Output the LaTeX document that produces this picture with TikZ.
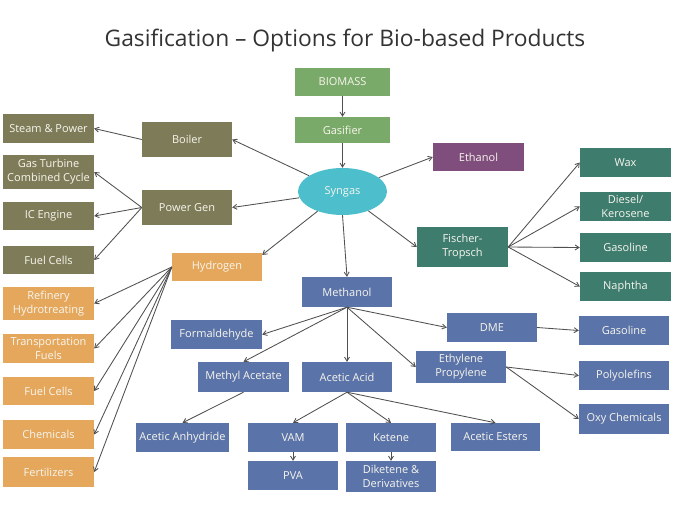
\documentclass[tikz,border=0pt]{standalone}
\usepackage{fontspec}
\setmainfont{Open Sans}
\usetikzlibrary{arrows.meta,shapes.geometric}
\definecolor{olive}{RGB}{126,124,88}
\definecolor{leaf}{RGB}{122,170,105}
\definecolor{plum}{RGB}{128,78,125}
\definecolor{teal2}{RGB}{62,124,110}
\definecolor{amber}{RGB}{228,167,92}
\definecolor{steel}{RGB}{90,115,168}
\definecolor{cyan2}{RGB}{76,190,204}
\definecolor{lnk}{RGB}{80,80,80}
\definecolor{txt}{RGB}{248,246,238}
\begin{document}
\begin{tikzpicture}[x=1pt,y=-1pt,
  bx/.style={rectangle,inner sep=0pt,align=center,text=txt,
    font=\fontsize{11}{14}\selectfont,minimum width=91,minimum height=29},
  ol/.style={bx,fill=olive},
  gr/.style={bx,fill=leaf},
  pu/.style={bx,fill=plum},
  tl/.style={bx,fill=teal2},
  og/.style={bx,fill=amber},
  bl/.style={bx,fill=steel},
  arr/.style={draw=lnk,line width=0.85pt,-{Straight Barb[length=4pt,width=5pt]}}]
\useasboundingbox (0,0) rectangle (676,507);
\fill[white] (0,0) rectangle (676,507);
\node[text=black!80,font=\fontsize{22.8}{26}\selectfont] (title) at (345,41) {Gasification – Options for Bio-based Products};
% top
\node[gr,minimum width=95,minimum height=28] (bio) at (342.5,82) {BIOMASS};
\node[gr,minimum width=95,minimum height=26] (gas) at (342.5,130) {Gasifier};
\node[ellipse,fill=cyan2,inner sep=0pt,minimum width=89,minimum height=47,text=txt,font=\fontsize{11}{14}\selectfont] (sg) at (342.5,191.5) {Syngas};
\node[pu,minimum height=28] (eth) at (478.5,157) {Ethanol};
% left column
\node[ol,minimum width=90,minimum height=35] (boiler) at (187,139.5) {Boiler};
\node[ol,minimum width=90,minimum height=35] (pg) at (187,207.5) {Power Gen};
\node[og,minimum width=90,minimum height=28] (hy) at (217,267) {Hydrogen};
\node[ol] (steam) at (48.5,128.5) {Steam \& Power};
\node[ol,minimum height=34] (gt) at (48.5,172) {Gas Turbine\\Combined Cycle};
\node[ol,minimum height=28] (ic) at (48.5,216) {IC Engine};
\node[ol,minimum height=28] (fcg) at (48.5,260) {Fuel Cells};
\node[og,minimum height=33] (ref) at (48.5,303.5) {Refinery\\Hydrotreating};
\node[og] (tf) at (48.5,348.5) {Transportation\\Fuels};
\node[og,minimum height=28] (fco) at (48.5,391) {Fuel Cells};
\node[og] (chem) at (48.5,434.5) {Chemicals};
\node[og,minimum height=30] (fert) at (48.5,472) {Fertilizers};
% FT
\node[tl,minimum height=40] (ft) at (462.5,247) {Fischer-\\Tropsch};
\node[tl] (wax) at (625.5,162.5) {Wax};
\node[tl] (die) at (625.5,206.5) {Diesel/\\Kerosene};
\node[tl] (gasl) at (625.5,247.5) {Gasoline};
\node[tl] (nap) at (625.5,286.5) {Naphtha};
% methanol
\node[bl,minimum width=90,minimum height=30] (me) at (347,292) {Methanol};
\node[bl] (fo) at (216.5,334.5) {Formaldehyde};
\node[bl,minimum height=30] (ma) at (243.5,377) {Methyl Acetate};
\node[bl,minimum width=90,minimum height=30] (aa) at (347,377) {Acetic Acid};
\node[bl,minimum width=90] (dme) at (492,327.5) {DME};
\node[bl,minimum width=90] (gb) at (624,330.5) {Gasoline};
\node[bl,minimum width=90,minimum height=32] (ep) at (461,367) {Ethylene\\Propylene};
\node[bl,minimum width=90] (po) at (624,375.5) {Polyolefins};
\node[bl,minimum width=90,minimum height=30] (oxy) at (624,419) {Oxy Chemicals};
\node[bl,minimum width=93] (aan) at (182.5,437.5) {Acetic Anhydride};
\node[bl,minimum width=90] (vam) at (293,437.5) {VAM};
\node[bl,minimum width=90] (ke) at (391,437.5) {Ketene};
\node[bl,minimum width=89,minimum height=28] (ae) at (495.5,437) {Acetic Esters};
\node[bl,minimum width=90] (pva) at (293,475.5) {PVA};
\node[bl,minimum width=90,minimum height=31] (dik) at (391,476.5) {Diketene \&\\Derivatives};
% connectors
\draw[arr] (bio) -- (gas);
\draw[arr] (gas) -- (sg);
\draw[arr] (sg) -- (boiler.east);
\draw[arr] (sg) -- (pg.east);
\draw[arr] (sg) -- (eth.west);
\draw[arr] (sg) -- (ft.west);
\draw[arr] (sg) -- (hy.15);
\draw[arr] (sg.south) -- (me.north);
\draw[arr] (boiler.west) -- (steam.east);
\draw[arr] (pg.west) -- (gt.east);
\draw[arr] (pg.west) -- (ic.east);
\draw[arr] (pg.west) -- (fcg.east);
\foreach \t in {ref,tf,fco,chem,fert} \draw[arr] (hy.west) -- (\t.east);
\foreach \t in {wax,die,gasl,nap} \draw[arr] (ft.east) -- (\t.west);
\draw[arr] (me.south) -- (fo.east);
\draw[arr] (me.south) -- (ma.north);
\draw[arr] (me.south) -- (aa.north);
\draw[arr] (me.south) -- (ep.west);
\draw[arr] (me.south) -- (dme.west);
\draw[arr] (ma.south) -- (aan.north);
\draw[arr] (aa.south) -- (vam.north);
\draw[arr] (aa.south) -- (ke.north);
\draw[arr] (aa.south) -- (ae.north);
\draw[arr] (vam) -- (pva);
\draw[arr] (ke) -- (dik);
\draw[arr] (dme.east) -- (gb.west);
\draw[arr] (ep.east) -- (po.west);
\draw[arr] (ep.east) -- (oxy.west);
\end{tikzpicture}
\end{document}
